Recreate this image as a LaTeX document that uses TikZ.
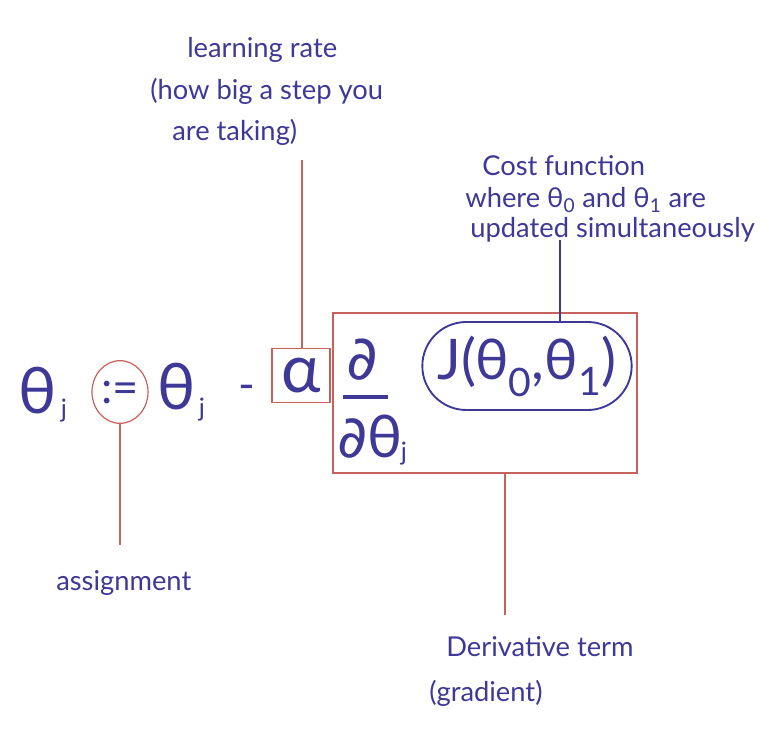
\documentclass[tikz,border=0pt]{standalone}
\usepackage{fontspec}
\setmainfont{Lato}
\newfontfamily\dvfont{DejaVu Sans}
\usetikzlibrary{shapes.geometric}
\definecolor{ink}{RGB}{62,56,150}
\definecolor{redline}{RGB}{196,98,92}
\begin{document}
\begin{tikzpicture}[x=0.75pt,y=-0.75pt,
 lbl/.style={text=ink, font=\fontsize{20.5}{24}\selectfont, anchor=west, inner sep=0},
 big/.style={text=ink, font=\fontsize{48}{50}\selectfont, inner sep=0},
 sub/.style={text=ink, font=\fontsize{19}{20}\selectfont, inner sep=0},
 redl/.style={draw=redline, line width=0.9pt},
 blul/.style={draw=ink, line width=1.2pt}]
\useasboundingbox[fill=white] (0,0) rectangle (769,734);

% equation row
\node[big] (th1) at (38,391) {θ};
\node[sub] (j1) at (64,411) {j};
\node[redl, ellipse, minimum width=42pt, minimum height=47pt, inner sep=0,
      text=ink, font=\fontsize{34}{36}\selectfont] (assign) at (120,392) {:=};
\node[big] (th2) at (177,387) {θ};
\node[sub] (j2) at (202,410) {j};
\node[big, font=\fontsize{34}{36}\selectfont] (minus) at (247,393) {-};
\node[redl, rectangle, minimum width=43.5pt, minimum height=41pt, inner sep=0,
      text=ink, font=\fontsize{50}{52}\selectfont] (alpha) at (301,375.5) {α};
\node[redl, rectangle, minimum width=228pt, minimum height=120pt] (bigbox) at (485,393) {};
\node[big, font=\dvfont\fontsize{46}{48}\selectfont] (d1) at (362,360) {∂};
\draw[draw=ink, line width=2.5pt] (343,397) -- (388,397);
\node[big, font=\fontsize{44}{46}\selectfont] (d2) at (370,437) {{\dvfont ∂}θ};
\node[sub] (j3) at (404,454) {j};
\node[draw=ink, line width=1.4pt, rounded corners=33pt, minimum width=157pt,
      minimum height=66pt, inner sep=0, text=ink, font=\fontsize{42}{44}\selectfont] (cost) at (527,366)
      {J(θ\textsubscript{0},θ\textsubscript{1})};

% labels
\node[lbl] (lr1) at (187,50) {learning rate};
\node[lbl] (lr2) at (150,91) {(how big a step you};
\node[lbl] (lr3) at (172,132) {are taking)};
\node[lbl] (cf1) at (482,166) {Cost function};
\node[lbl] (cf2) at (465,200) {where θ\textsubscript{0} and θ\textsubscript{1} are};
\node[lbl] (cf3) at (470,230) {updated simultaneously};
\node[lbl] (as) at (56,583) {assignment};
\node[lbl] (dt1) at (446,647) {Derivative term};
\node[lbl] (dt2) at (429,693) {(gradient)};

% connectors
\coordinate (lrend) at (302,160);
\coordinate (asend) at (120,545);
\coordinate (cfend) at (560,240);
\coordinate (dtend) at (505,615);
\draw[redl] (alpha.north -| lrend) -- (lrend);
\draw[redl] (assign.south) -- (asend);
\draw[blul] (cfend) -- (cfend |- cost.north);
\draw[redl] (dtend |- bigbox.south) -- (dtend);
\end{tikzpicture}
\end{document}
